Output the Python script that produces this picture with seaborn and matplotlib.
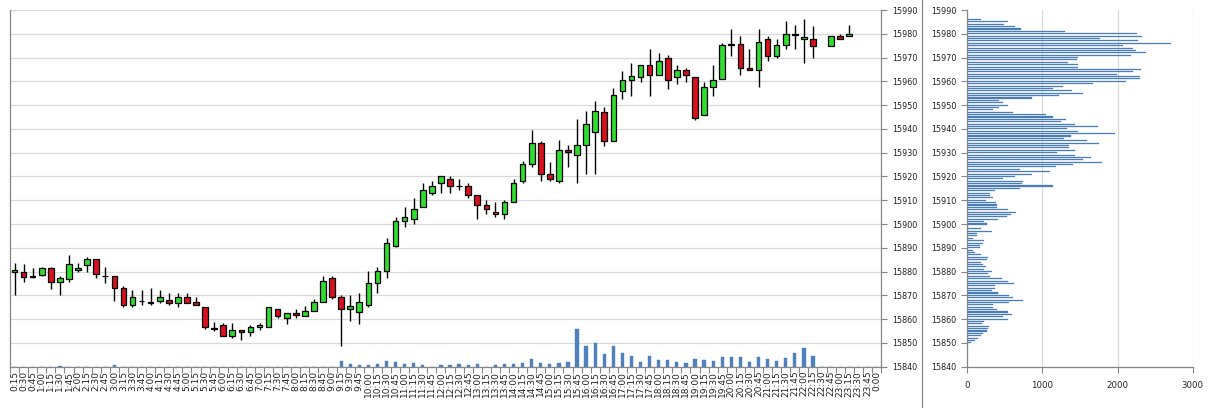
import numpy as np
import pandas as pd
import matplotlib
matplotlib.use("Agg")
import matplotlib.pyplot as plt
import seaborn as sns
from matplotlib.lines import Line2D

sns.set_theme(style="white")
plt.rcParams["font.family"] = ["DejaVu Sans"]

# ---------------- data ----------------
times = [f"{((q + 1) * 15 // 60) % 24}:{((q + 1) * 15) % 60:02d}" for q in range(96)]

nan = np.nan
opens = [15880.0, 15880.0, 15878.0, 15878.6, 15881.7, 15875.7, 15876.8, 15880.6, 15882.8, 15885.1,
         15878.0, 15878.1, 15872.9, 15865.8, 15867.7, 15867.0, 15867.6, 15868.0, 15866.9, 15869.2,
         15867.2, 15865.0, 15856.2, 15857.5, 15853.1, 15855.3, 15854.4, 15856.5, 15856.5, 15864.4,
         15860.3, 15862.4, 15861.4, 15863.3, 15867.4, 15877.4, 15869.4, 15864.4, 15863.2, 15866.0,
         15875.3, 15880.1, 15890.8, 15901.1, 15902.1, 15907.1, 15913.0, 15917.2, 15918.9, 15916.0,
         15915.8, 15912.0, 15908.0, 15905.0, 15904.2, 15909.2, 15917.9, 15925.2, 15934.0, 15921.0,
         15917.9, 15931.2, 15929.0, 15933.1, 15938.9, 15947.0, 15935.1, 15956.1, 15960.7, 15962.0,
         15967.0, 15962.8, 15970.0, 15962.0, 15964.9, 15961.8, 15946.0, 15957.8, 15961.1, 15975.7,
         15975.9, 15965.7, 15964.9, 15977.9, 15970.6, 15975.1, 15979.9, 15977.9, 15977.9, nan,
         15975.0, 15978.9, 15978.9, nan, nan, nan]
highs = [15883.6, 15883.0, 15881.7, 15882.0, 15881.8, 15878.0, 15886.8, 15883.6, 15886.1, 15885.1,
         15881.9, 15878.1, 15873.9, 15872.2, 15872.2, 15872.9, 15872.2, 15870.8, 15870.8, 15870.8,
         15869.2, 15865.0, 15859.0, 15858.3, 15858.3, 15855.3, 15857.5, 15858.3, 15865.3, 15864.4,
         15862.4, 15864.4, 15865.6, 15868.3, 15878.3, 15878.3, 15870.0, 15870.0, 15871.1, 15880.1,
         15882.0, 15894.0, 15902.8, 15907.0, 15910.9, 15917.2, 15917.9, 15920.0, 15920.0, 15918.9,
         15917.2, 15912.0, 15909.9, 15909.1, 15909.9, 15918.9, 15926.3, 15939.6, 15935.0, 15926.0,
         15935.4, 15933.3, 15944.1, 15947.7, 15951.9, 15949.1, 15957.1, 15964.2, 15967.8, 15967.0,
         15973.7, 15972.0, 15970.9, 15967.0, 15965.7, 15961.8, 15959.9, 15967.0, 15976.1, 15981.8,
         15978.9, 15973.7, 15981.8, 15978.9, 15977.9, 15985.2, 15983.9, 15986.3, 15983.1, nan,
         15978.9, 15980.0, 15983.9, nan, nan, nan]
lows = [15870.0, 15875.7, 15877.5, 15878.3, 15872.6, 15870.0, 15875.7, 15879.9, 15879.9, 15877.1,
        15875.4, 15867.6, 15864.9, 15864.9, 15865.8, 15865.8, 15866.9, 15865.8, 15864.9, 15866.9,
        15865.8, 15856.0, 15855.1, 15853.1, 15852.2, 15851.3, 15853.1, 15855.3, 15856.5, 15860.3,
        15857.9, 15860.3, 15861.4, 15863.3, 15867.0, 15868.3, 15848.5, 15859.3, 15857.9, 15865.1,
        15871.1, 15877.4, 15890.3, 15898.9, 15900.0, 15907.1, 15912.3, 15913.0, 15913.0, 15914.4,
        15910.9, 15902.1, 15904.2, 15902.9, 15902.1, 15909.2, 15917.2, 15923.9, 15917.9, 15917.9,
        15917.2, 15923.9, 15917.2, 15921.0, 15921.0, 15933.0, 15935.1, 15952.6, 15953.8, 15959.9,
        15953.8, 15962.8, 15956.8, 15959.0, 15959.9, 15943.9, 15946.0, 15953.8, 15961.1, 15970.6,
        15962.8, 15964.9, 15957.8, 15968.7, 15969.9, 15973.7, 15973.7, 15967.8, 15969.9, nan,
        15975.0, 15977.9, 15978.9, nan, nan, nan]
closes = [15880.8, 15877.8, 15877.7, 15881.7, 15875.7, 15877.1, 15883.0, 15881.7, 15885.1, 15878.8,
          15878.0, 15872.9, 15865.8, 15869.2, 15867.5, 15866.8, 15869.2, 15866.9, 15869.2, 15866.9,
          15865.8, 15856.9, 15856.0, 15853.1, 15855.3, 15854.4, 15856.5, 15857.5, 15865.3, 15861.4,
          15862.4, 15861.7, 15863.3, 15867.4, 15876.1, 15869.4, 15864.4, 15865.6, 15867.4, 15875.3,
          15880.4, 15891.9, 15901.3, 15903.0, 15906.3, 15914.4, 15916.1, 15920.0, 15915.8, 15916.0,
          15912.0, 15907.8, 15906.3, 15904.2, 15909.2, 15917.2, 15925.2, 15934.0, 15921.0, 15918.9,
          15931.2, 15930.1, 15933.1, 15942.1, 15947.7, 15935.1, 15954.3, 15960.7, 15962.1, 15967.0,
          15962.8, 15968.7, 15960.7, 15964.9, 15962.8, 15944.6, 15957.8, 15960.7, 15975.1, 15975.4,
          15965.7, 15964.9, 15976.6, 15970.6, 15975.1, 15980.0, 15979.6, 15978.7, 15975.0, nan,
          15978.9, 15977.9, 15980.0, nan, nan, nan]
volumes = [0, 0, 0, 0, 0, 60, 0, 0, 0, 0,
           0, 200, 0, 0, 0, 0, 0, 0, 0, 0,
           0, 0, 0, 0, 0, 0, 0, 0, 0, 0,
           0, 0, 0, 0, 0, 0, 600, 250, 130, 130,
           300, 580, 450, 250, 330, 220, 0, 130, 130, 230,
           130, 230, 0, 130, 230, 230, 330, 770, 370, 230,
           330, 430, 3770, 2070, 2400, 1270, 2070, 1400, 1070, 470,
           1070, 670, 670, 470, 370, 770, 670, 570, 970, 970,
           970, 470, 970, 770, 570, 870, 1400, 1870, 1070, 0,
           0, 0, 0, 0, 0, 0]

# volume profile: one value per price point, from 15850 upward
profile_start = 15850
profile_volume = [49, 102, 146, 186, 213, 257, 271, 293, 191, 222,
                  537, 479, 599, 546, 400, 346, 346, 555, 746, 604,
                  555, 404, 324, 368, 368, 621, 537, 457, 302, 280,
                  324, 226, 249, 213, 178, 257, 280, 186, 102, 80,
                  169, 169, 213, 226, 80, 133, 133, 324, 178, 13,
                  266, 222, 408, 524, 581, 644, 537, 400, 400, 382,
                  249, 337, 302, 302, 368, 701, 1136, 723, 737, 479,
                  635, 857, 1101, 701, 1181, 1411, 1798, 1545, 1642, 1434,
                  1198, 1434, 1354, 1358, 1753, 1589, 1287, 1376, 1966, 1469,
                  1332, 1735, 1434, 1243, 1314, 1136, 1043, 604, 337, 426,
                  537, 479, 426, 857, 1221, 1536, 1398, 1145, 1278, 1678,
                  2113, 2299, 2299, 1988, 2210, 2308, 1478, 1469, 1345, 1456,
                  1469, 2175, 2379, 2246, 2210, 2077, 2707, 2268, 1767, 2321,
                  2255, 1300, 715, 639, 488, 537, 178]
profile_price = profile_start + np.arange(len(profile_volume))

# ---------------- figure ----------------
W, H = 1210, 408
fig = plt.figure(figsize=(W / 100, H / 100), dpi=100)
fig.patch.set_facecolor("white")

GRID = "#d9d9d9"
AXC = "#868686"
TXT = "#222222"
BLUE = "#4f81bd"

bot = (H - 366.7) / H
hgt = 356.7 / H
ax = fig.add_axes([10 / W, bot, 871 / W, hgt])
axv = ax.twinx()
axp = fig.add_axes([967.3 / W, bot, 225.4 / W, hgt])

x = np.arange(len(times))
df = pd.DataFrame(dict(time=times, x=x, open=opens, high=highs, low=lows,
                       close=closes, volume=volumes))
valid = df.dropna()

# candles
ax.vlines(valid.x, valid.low, valid.high, color="black", lw=1.0, zorder=2)
body_lo = np.minimum(valid.open, valid.close)
body_h = np.maximum((valid.close - valid.open).abs(), 0.05)
colors = np.where(valid.close >= valid.open, "#2fdc2f", "#d5121e")
ax.bar(valid.x, body_h, bottom=body_lo, width=0.62, color=colors,
       edgecolor="black", linewidth=0.9, zorder=3)

ax.set_xlim(-0.5, len(times) - 0.5)
ax.set_ylim(15840, 15990)
ax.set_yticks(np.arange(15840, 15991, 10))
ax.yaxis.tick_right()
ax.grid(axis="y", color=GRID, lw=0.9)
ax.grid(axis="x", visible=False)
ax.set_axisbelow(True)
ax.set_xticks(x)
ax.set_xticklabels(times, rotation=90, fontsize=6.5, color=TXT)
ax.set_xticks(np.arange(-0.5, len(times), 1), minor=True)
ax.tick_params(axis="x", which="major", length=0, pad=3)
ax.tick_params(axis="x", which="minor", length=4, color=AXC, width=0.8, direction="out", bottom=True)
ax.tick_params(axis="y", which="major", length=4, color=AXC, width=0.8, labelsize=5.8,
               labelcolor=TXT, right=True, left=False, pad=4, direction="out")
ax.spines["top"].set_visible(False)
for s in ["left", "right", "bottom"]:
    ax.spines[s].set_color(AXC)
    ax.spines[s].set_linewidth(0.9)

# volume bars (secondary axis)
sns.barplot(data=df, x="x", y="volume", ax=axv, native_scale=True, color=BLUE,
            saturation=1, width=0.36, errorbar=None, edgecolor=BLUE, linewidth=0.3)
axv.set_xlim(-0.5, len(times) - 0.5)
axv.set_ylim(0, 35700)
axv.set_yticks([])
axv.set_ylabel("")
axv.set_xlabel("")
for s in axv.spines.values():
    s.set_visible(False)
axv.tick_params(axis="both", which="both", length=0, labelright=False, labelbottom=False)
ax.set_xlabel("")

# volume profile
sns.barplot(x=profile_volume, y=profile_price, orient="h", ax=axp, native_scale=True,
            color="#4a7ebb", saturation=1, width=0.45, errorbar=None,
            edgecolor="#4a7ebb", linewidth=0.2)
axp.set_xlim(0, 3000)
axp.set_ylim(15840, 15990)
axp.set_xticks([0, 1000, 2000, 3000])
axp.set_xticklabels(["0", "1000", "2000", "3000"], fontsize=6.2, color=TXT)
axp.set_yticks(np.arange(15840, 15991, 10))
axp.set_yticklabels([str(v) for v in range(15840, 15991, 10)], fontsize=5.8, color=TXT)
axp.grid(axis="x", color=GRID, lw=0.9)
axp.grid(axis="y", visible=False)
axp.set_axisbelow(True)
axp.tick_params(axis="both", length=4, color=AXC, width=0.8, direction="out",
                left=True, bottom=True)
axp.tick_params(axis="x", pad=6)
axp.tick_params(axis="y", pad=4)
for s in ["top", "right"]:
    axp.spines[s].set_visible(False)
for s in ["left", "bottom"]:
    axp.spines[s].set_color(AXC)
    axp.spines[s].set_linewidth(0.9)
axp.set_xlabel("")
axp.set_ylabel("")

# separator between the two chart panels
fig.add_artist(Line2D([922 / W, 922 / W], [0, 1], color=AXC, lw=0.9))

fig.savefig("out.png", dpi=100, facecolor="white")
